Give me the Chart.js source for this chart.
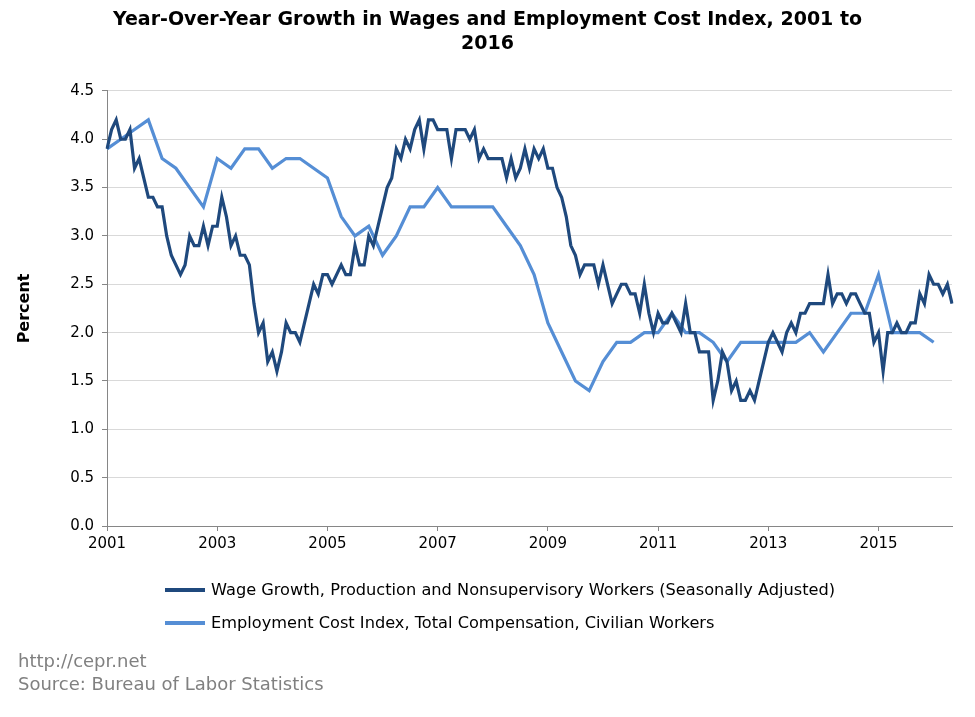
<!DOCTYPE html>
<html>
<head>
<meta charset="utf-8">
<title>Wages and ECI</title>
<script src="https://cdn.jsdelivr.net/npm/chart.js@4.4.1/dist/chart.umd.min.js"></script>
<style>
  body { margin: 0; background: #fff; }
  #wrap { position: relative; width: 975px; height: 717px; overflow: hidden; }
  #chart { position: absolute; left: 0; top: 0; }
  .leg { position: absolute; left: 165px; font: 16.2px "DejaVu Sans", Verdana, sans-serif; color: #000; white-space: nowrap; }
  .leg .sw { display: inline-block; width: 40px; height: 4px; margin-right: 6px; vertical-align: middle; position: relative; top: -1px; }
  .src { position: absolute; left: 18px; font: 18px "DejaVu Sans", Verdana, sans-serif; color: #808080; white-space: nowrap; }
</style>
</head>
<body>
<div id="wrap">
  <canvas id="chart" width="975" height="717"></canvas>
  <div class="leg" style="top:580px"><span class="sw" style="background:#1F497D"></span>Wage Growth, Production and Nonsupervisory Workers (Seasonally Adjusted)</div>
  <div class="leg" style="top:613px"><span class="sw" style="background:#558ED5"></span>Employment Cost Index, Total Compensation, Civilian Workers</div>
  <div class="src" style="top:650px">http://cepr.net</div>
  <div class="src" style="top:673px">Source: Bureau of Labor Statistics</div>
</div>
<script>
// monthly categories, Jan 2001 .. May 2016
const startYear = 2001;
const monthCount = 185;
const monthNames = ['Jan','Feb','Mar','Apr','May','Jun','Jul','Aug','Sep','Oct','Nov','Dec'];
const tickYears = ['2001', '2003', '2005', '2007', '2009', '2011', '2013', '2015'];

// year-over-year growth, production and nonsupervisory workers (monthly)
const wageGrowth = [
  3.9, 4.1, 4.2, 4.0, 4.0, 4.1, 3.7, 3.8, 3.6, 3.4,
  3.4, 3.3, 3.3, 3.0, 2.8, 2.7, 2.6, 2.7, 3.0, 2.9,
  2.9, 3.1, 2.9, 3.1, 3.1, 3.4, 3.2, 2.9, 3.0, 2.8,
  2.8, 2.7, 2.3, 2.0, 2.1, 1.7, 1.8, 1.6, 1.8, 2.1,
  2.0, 2.0, 1.9, 2.1, 2.3, 2.5, 2.4, 2.6, 2.6, 2.5,
  2.6, 2.7, 2.6, 2.6, 2.9, 2.7, 2.7, 3.0, 2.9, 3.1,
  3.3, 3.5, 3.6, 3.9, 3.8, 4.0, 3.9, 4.1, 4.2, 3.9,
  4.2, 4.2, 4.1, 4.1, 4.1, 3.8, 4.1, 4.1, 4.1, 4.0,
  4.1, 3.8, 3.9, 3.8, 3.8, 3.8, 3.8, 3.6, 3.8, 3.6,
  3.7, 3.9, 3.7, 3.9, 3.8, 3.9, 3.7, 3.7, 3.5, 3.4,
  3.2, 2.9, 2.8, 2.6, 2.7, 2.7, 2.7, 2.5, 2.7, 2.5,
  2.3, 2.4, 2.5, 2.5, 2.4, 2.4, 2.2, 2.5, 2.2, 2.0,
  2.2, 2.1, 2.1, 2.2, 2.1, 2.0, 2.3, 2.0, 2.0, 1.8,
  1.8, 1.8, 1.3, 1.5, 1.8, 1.7, 1.4, 1.5, 1.3, 1.3,
  1.4, 1.3, 1.5, 1.7, 1.9, 2.0, 1.9, 1.8, 2.0, 2.1,
  2.0, 2.2, 2.2, 2.3, 2.3, 2.3, 2.3, 2.6, 2.3, 2.4,
  2.4, 2.3, 2.4, 2.4, 2.3, 2.2, 2.2, 1.9, 2.0, 1.6,
  2.0, 2.0, 2.1, 2.0, 2.0, 2.1, 2.1, 2.4, 2.3, 2.6,
  2.5, 2.5, 2.4, 2.5, 2.3
];

// ECI total compensation, civilian workers (quarterly, Q1 2001 .. Q1 2016)
const eciGrowth = [
  3.9, 4.0, 4.1, 4.2, 3.8, 3.7, 3.5, 3.3, 3.8, 3.7,
  3.9, 3.9, 3.7, 3.8, 3.8, 3.7, 3.6, 3.2, 3.0, 3.1,
  2.8, 3.0, 3.3, 3.3, 3.5, 3.3, 3.3, 3.3, 3.3, 3.1,
  2.9, 2.6, 2.1, 1.8, 1.5, 1.4, 1.7, 1.9, 1.9, 2.0,
  2.0, 2.2, 2.0, 2.0, 1.9, 1.7, 1.9, 1.9, 1.9, 1.9,
  1.9, 2.0, 1.8, 2.0, 2.2, 2.2, 2.6, 2.0, 2.0, 2.0,
  1.9
];

const labels = [];
for (let i = 0; i < monthCount; i++) {
  labels.push(monthNames[i % 12] + ' ' + (startYear + Math.floor(i / 12)));
}
// quarterly values sit on the first month of each quarter
const eciMonthly = labels.map((l, i) => (i % 3 === 0 && i / 3 < eciGrowth.length) ? eciGrowth[i / 3] : null);

const font = 'DejaVu Sans';
const axisGray = '#868686';

new Chart(document.getElementById('chart'), {
  type: 'line',
  data: {
    labels: labels,
    datasets: [
      {
        label: 'Wage Growth, Production and Nonsupervisory Workers (Seasonally Adjusted)',
        data: wageGrowth,
        borderColor: '#1F497D',
        borderWidth: 3.2,
        pointRadius: 0,
        tension: 0,
        fill: false
      },
      {
        label: 'Employment Cost Index, Total Compensation, Civilian Workers',
        data: eciMonthly,
        borderColor: '#558ED5',
        borderWidth: 3.2,
        pointRadius: 0,
        spanGaps: true,
        tension: 0,
        fill: false
      }
    ]
  },
  options: {
    responsive: false,
    animation: false,
    layout: { padding: { left: 0, right: 0, top: 0, bottom: 151 } },
    plugins: {
      legend: { display: false },
      tooltip: { enabled: false },
      title: {
        display: true,
        text: ['Year-Over-Year Growth in Wages and Employment Cost Index, 2001 to', '2016'],
        color: '#000',
        font: { family: font, size: 19, weight: 'bold', lineHeight: 1.26 },
        padding: { top: 8, bottom: 35 }
      }
    },
    scales: {
      x: {
        type: 'category',
        offset: false,
        afterFit: (scale) => { scale.height = 40; },
        border: { display: true, color: axisGray, width: 1 },
        grid: {
          drawOnChartArea: false,
          tickLength: 5,
          color: (ctx) => (ctx.tick && ctx.tick.label) ? axisGray : 'rgba(0,0,0,0)'
        },
        ticks: {
          autoSkip: false,
          maxRotation: 0,
          color: '#000',
          font: { family: font, size: 15 },
          padding: 4,
          callback: (val, i) => {
            const y = String(startYear + Math.floor(i / 12));
            return (i % 24 === 0 && tickYears.includes(y)) ? y : '';
          }
        }
      },
      y: {
        min: 0,
        max: 4.5,
        afterFit: (scale) => { scale.width = 107; },
        border: { display: true, color: axisGray, width: 1 },
        grid: { color: '#D9D9D9', tickColor: axisGray, tickLength: 5 },
        ticks: {
          stepSize: 0.5,
          color: '#000',
          font: { family: font, size: 15 },
          padding: 8,
          callback: (v) => v.toFixed(1)
        },
        title: {
          display: true,
          text: 'Percent',
          color: '#000',
          font: { family: font, size: 16, weight: 'bold' },
          padding: { top: 15, bottom: 0 }
        }
      },
      // empty right-hand margin so the plot ends at the same place as the reference
      yRight: {
        position: 'right',
        afterFit: (scale) => { scale.width = 23; },
        border: { display: false },
        grid: { display: false, drawOnChartArea: false },
        ticks: { display: false }
      }
    }
  }
});
</script>
</body>
</html>
